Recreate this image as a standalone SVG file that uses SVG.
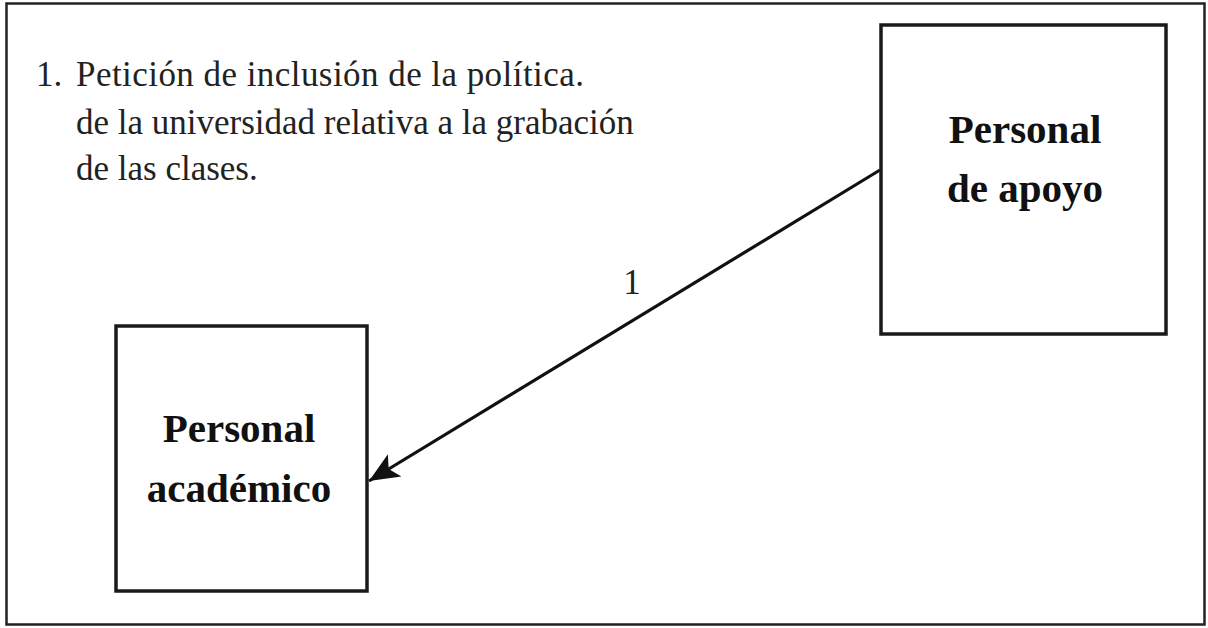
<svg xmlns="http://www.w3.org/2000/svg" width="1208" height="628" viewBox="0 0 1208 628">
<style>
.frame{fill:none;stroke:#222;stroke-width:2.5}
.box{fill:#fff;stroke:#1a1a1a;stroke-width:3.5}
.note{font-family:'Liberation Serif','Times New Roman',serif;font-size:35px;fill:#222}
.lbl{font-family:'Liberation Serif','Times New Roman',serif;font-size:41px;font-weight:bold;fill:#111;text-anchor:middle}
.conn{stroke:#111;stroke-width:3.2;fill:none}
</style>
<defs>
<marker id="ah" markerUnits="userSpaceOnUse" markerWidth="34" markerHeight="28" refX="30" refY="14" orient="auto">
<path d="M0,1 L30,14 L0,27 L7,14 Z" fill="#111"/>
</marker>
</defs>
<rect class="frame" x="6.5" y="3.5" width="1198" height="621"/>
<g id="note">
<text class="note" x="36" y="86">1.<tspan x="76" textLength="508" lengthAdjust="spacing">Petición de inclusión de la política.</tspan></text>
<text class="note" x="76" y="134">de la universidad relativa a la grabación</text>
<text class="note" x="76" y="180">de las clases.</text>
</g>
<g id="connectors">
<line class="conn" x1="880" y1="170" x2="369" y2="481" marker-end="url(#ah)"/>
<text class="note" x="632" y="294" text-anchor="middle">1</text>
</g>
<g id="personal-apoyo">
<rect class="box" x="881" y="25" width="285" height="309"/>
<text class="lbl" x="1025" y="143">Personal</text>
<text class="lbl" x="1025" y="202">de apoyo</text>
</g>
<g id="personal-academico">
<rect class="box" x="116" y="326" width="251" height="265"/>
<text class="lbl" x="239" y="442">Personal</text>
<text class="lbl" x="239" y="502">académico</text>
</g>
</svg>
